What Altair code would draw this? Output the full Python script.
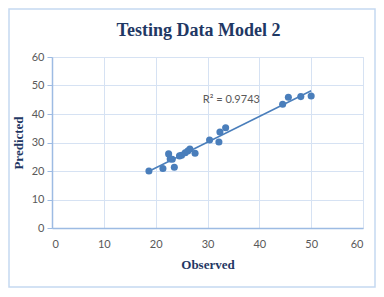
import altair as alt
import pandas as pd

observed = [18.7, 21.4, 23.6, 22.5, 22.8, 23.2, 24.6, 25.0, 25.7, 26.2, 26.6, 27.6,
            30.4, 32.2, 32.4, 33.5, 44.5, 45.6, 48.0, 50.0]
predicted = [20.0, 20.9, 21.3, 26.0, 24.2, 24.1, 25.3, 25.5, 26.4, 27.0, 27.7, 26.2,
             30.9, 30.2, 33.7, 35.2, 43.4, 45.9, 46.1, 46.3]
axis_ticks = [0, 10, 20, 30, 40, 50, 60]
r2_label = ["R\u00b2 = 0.9743"]
r2_pos_x = [34.6]
r2_pos_y = [44.9]
chart_title = ["Testing Data Model 2"]

df = pd.DataFrame({"Observed": observed, "Predicted": predicted})
ann = pd.DataFrame({"x": r2_pos_x, "y": r2_pos_y, "t": r2_label})
ttl = pd.DataFrame({"t": chart_title})

W, H = 311, 171
BLUE = "#4a7ebb"
NAVY = "#1f3864"
GRAY = "#595959"
LABEL_FONT = "Lato"
TITLE_FONT = "Liberation Serif"

xscale = alt.Scale(domain=[0, 60], nice=False)
yscale = alt.Scale(domain=[0, 60], nice=False)

xaxis = alt.Axis(values=axis_ticks, title="Observed", grid=True, gridColor="#d6e2f3",
                 domainColor="#9dbbe3", domainWidth=1.5, ticks=False, labelPadding=10,
                 labelColor=GRAY, labelFont=LABEL_FONT, labelFontSize=11, labelOverlap=False,
                 titleFont=TITLE_FONT, titleFontSize=13, titleColor=NAVY,
                 titleFontWeight="bold", titlePadding=9)
yaxis = alt.Axis(values=axis_ticks, title="Predicted", grid=True, gridColor="#d6e2f3",
                 domainColor="#9dbbe3", domainWidth=1.5, ticks=True, tickColor="#9dbbe3",
                 tickSize=5, labelPadding=3, labelOverlap=False,
                 labelColor=GRAY, labelFont=LABEL_FONT, labelFontSize=11,
                 titleFont=TITLE_FONT, titleFontSize=13, titleColor=NAVY,
                 titleFontWeight="bold", titlePadding=6)

X = lambda f: alt.X(f, scale=xscale, axis=xaxis)
Y = lambda f: alt.Y(f, scale=yscale, axis=yaxis)

points = alt.Chart(df).mark_circle(size=50, color=BLUE, opacity=1).encode(
    x=X("Observed:Q"), y=Y("Predicted:Q"),
)

trend = alt.Chart(df).transform_regression("Observed", "Predicted").mark_line(
    color=BLUE, strokeWidth=1.5
).encode(x=X("Observed:Q"), y=Y("Predicted:Q"))

label = alt.Chart(ann).mark_text(color=GRAY, font=LABEL_FONT, fontSize=11, align="center",
                                 baseline="middle").encode(
    x=X("x:Q"), y=Y("y:Q"), text="t:N",
)

title = alt.Chart(ttl).mark_text(color=NAVY, font=TITLE_FONT, fontSize=18, fontWeight="bold",
                                 align="center", baseline="middle", clip=False).encode(
    x=alt.value(W / 2 - 9), y=alt.value(-26), text="t:N"
)

border = alt.Chart(ann).mark_rect(fill=None, stroke="#c5d9f1", strokeWidth=1.5, clip=False).encode(
    x=alt.value(-43), x2=alt.value(W + 12), y=alt.value(-48), y2=alt.value(H + 59)
)

chart = alt.layer(points, border, trend, label, title).properties(
    width=W, height=H,
    autosize=alt.AutoSizeParams(type="none"),
    padding={"left": 44, "top": 49, "right": 13, "bottom": 61},
).configure_view(stroke=None).configure(background="white")

chart.save("out.html", embed_options={"renderer": "svg", "actions": False})
